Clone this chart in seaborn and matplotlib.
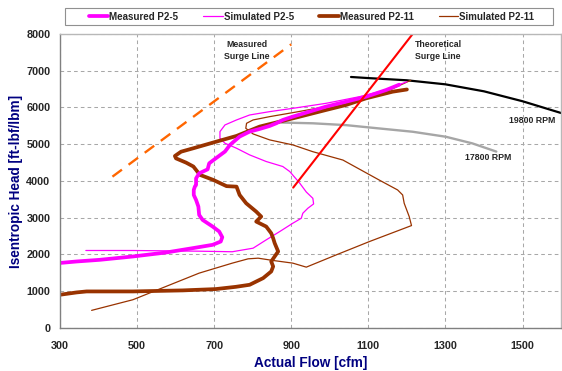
import matplotlib
matplotlib.use("Agg")
import matplotlib.pyplot as plt
from matplotlib.lines import Line2D
from matplotlib.patches import Rectangle
import seaborn as sns
import pandas as pd

# Compressor map: isentropic head vs actual flow
meas_p25_flow = [300, 343, 403, 489, 575, 644, 696, 717, 721, 713, 696, 670, 661, 659, 653, 647,
                 647, 650, 653, 653, 661, 683, 687, 702, 728, 741, 766, 792, 818, 844, 861, 878,
                 904, 947, 990, 1042, 1094, 1146, 1180]
meas_p25_head = [1770, 1810, 1855, 1946, 2054, 2172, 2263, 2353, 2470, 2625, 2760, 2941, 3077, 3303, 3484, 3620,
                 3756, 3851, 3891, 4072, 4208, 4317, 4480, 4600, 4801, 4982, 5208, 5344, 5416, 5498, 5570, 5661,
                 5751, 5887, 6023, 6158, 6294, 6475, 6620]

sim_p25_flow = [367, 489, 661, 747, 801, 835, 870, 904, 926, 930, 943, 958, 956, 939, 922, 896, 878,
                835, 792, 758, 728, 715, 715, 728, 758, 792, 844, 904, 990, 1077, 1146, 1180, 1200]
sim_p25_head = [2109, 2109, 2090, 2075, 2172, 2398, 2624, 2851, 2986, 3122, 3258, 3376, 3529, 3700, 3941, 4258, 4394,
                4530, 4710, 4891, 5027, 5163, 5344, 5525, 5661, 5796, 5887, 5977, 6113, 6294, 6475, 6620, 6700]

meas_p211_flow = [300, 343, 369, 489, 618, 704, 756, 792, 827, 848, 853, 848, 857, 866, 857, 853, 848,
                  835, 809, 822, 809, 783, 766, 758, 732, 697, 663, 646, 627, 601, 598, 614, 646, 706,
                  758, 818, 870, 922, 990, 1042, 1094, 1163, 1200]
meas_p211_head = [905, 968, 995, 995, 1023, 1059, 1120, 1176, 1357, 1538, 1674, 1810, 1946, 2082, 2308, 2443, 2579,
                  2760, 2896, 3032, 3167, 3394, 3620, 3846, 3860, 4032, 4167, 4394, 4500, 4615, 4680, 4797, 4891, 5072,
                  5226, 5480, 5615, 5751, 5932, 6068, 6249, 6430, 6490]

sim_p211_flow = [382, 489, 575, 661, 747, 788, 814, 853, 904, 939, 1017, 1103, 1212, 1206, 1193, 1189, 1176,
                 1128, 1034, 956, 904, 844, 801, 782, 784, 801, 844, 904, 990, 1077, 1146, 1210]
sim_p211_head = [480, 769, 1131, 1493, 1765, 1882, 1900, 1837, 1765, 1656, 1991, 2353, 2787, 3032, 3394, 3620, 3756,
                 4027, 4570, 4797, 4982, 5118, 5280, 5434, 5570, 5661, 5751, 5860, 6023, 6222, 6430, 6740]

speed_19800_flow = [1055, 1100, 1200, 1300, 1400, 1500, 1600]
speed_19800_head = [6830, 6800, 6740, 6630, 6440, 6170, 5850]

speed_17800_flow = [875, 956, 1042, 1128, 1215, 1301, 1370, 1432]
speed_17800_head = [5590, 5570, 5520, 5430, 5340, 5204, 5023, 4800]

meas_surge_flow = [436, 900]
meas_surge_head = [4118, 7720]

theo_surge_flow = [905, 1215]
theo_surge_head = [3820, 8000]

x_ticks = [300, 500, 700, 900, 1100, 1300, 1500]
y_ticks = [0, 1000, 2000, 3000, 4000, 5000, 6000, 7000, 8000]

sns.set_style("white")
plt.rcParams["font.family"] = ["Liberation Sans", "DejaVu Sans"]
plt.rcParams["font.weight"] = "bold"

fig = plt.figure(figsize=(5.62, 3.71), dpi=100)
ax = fig.add_axes([0.1068, 0.1159, 0.8915, 0.7925])

MAGENTA = "#FF00FF"
BROWN = "#993300"


def draw(xs, ys, **kw):
    df = pd.DataFrame({"flow": xs, "head": ys})
    sns.lineplot(data=df, x="flow", y="head", sort=False, estimator=None, ax=ax, **kw)


draw(meas_surge_flow, meas_surge_head, color="#FF6600", lw=1.7, linestyle=(0, (5, 3.5)))
draw(speed_17800_flow, speed_17800_head, color="#A6A6A6", lw=1.7)
draw(speed_19800_flow, speed_19800_head, color="black", lw=1.6)
draw(sim_p211_flow, sim_p211_head, color=BROWN, lw=0.9)
draw(sim_p25_flow, sim_p25_head, color=MAGENTA, lw=0.9)
draw(meas_p211_flow, meas_p211_head, color=BROWN, lw=2.7)
draw(meas_p25_flow, meas_p25_head, color=MAGENTA, lw=2.7)
draw(theo_surge_flow, theo_surge_head, color="#FF0000", lw=1.5)

ax.set_xlim(300, 1600)
ax.set_ylim(0, 8000)
ax.set_xticks(x_ticks)
ax.set_yticks(y_ticks)
ax.set_xticklabels([str(v) for v in x_ticks], fontsize=7.8, fontweight="bold")
ax.set_yticklabels([str(v) for v in y_ticks], fontsize=7.8, fontweight="bold")
ax.tick_params(axis="both", direction="out", length=3, width=0.8, color="#808080", pad=4)
ax.tick_params(axis="x", pad=6)

ax.grid(True, color="#A8A8A8", linestyle=(0, (3.5, 3)), linewidth=0.75)
ax.set_axisbelow(True)
for side, col in [("left", "#808080"), ("bottom", "#808080"), ("top", "#B8B8B8"), ("right", "#B8B8B8")]:
    ax.spines[side].set_visible(True)
    ax.spines[side].set_color(col)
    ax.spines[side].set_linewidth(1.0)

ax.set_xlabel("Actual Flow [cfm]", fontsize=9.8, fontweight="bold", color="#000080")
ax.set_ylabel("Isentropic Head [ft-lbf/lbm]", fontsize=9.8, fontweight="bold", color="#000080")
ax.xaxis.set_label_coords(0.5, -0.095)
ax.yaxis.set_label_coords(-0.073, 0.5)

ax.text(785, 7550, "Measured\nSurge Line", fontsize=6.3, fontweight="bold", ha="center", va="center",
        linespacing=1.3)
ax.text(1222, 7550, "Theoretical\nSurge Line", fontsize=6.3, fontweight="bold", ha="left", va="center",
        linespacing=1.3)
ax.text(1525, 5650, "19800 RPM", fontsize=6.3, fontweight="bold", ha="center", va="center")
ax.text(1411, 4640, "17800 RPM", fontsize=6.3, fontweight="bold", ha="center", va="center")

handles = [
    Line2D([], [], color=MAGENTA, lw=2.7),
    Line2D([], [], color=MAGENTA, lw=0.9),
    Line2D([], [], color=BROWN, lw=2.7),
    Line2D([], [], color=BROWN, lw=0.9),
]
labels = ["Measured P2-5", "Simulated P2-5", "Measured P2-11", "Simulated P2-11"]
fig.legend(handles, labels, ncol=4, loc="center", bbox_to_anchor=(311.5 / 562, 1 - 16.5 / 371),
           prop={"weight": "bold", "size": 7}, frameon=False,
           handlelength=2.0, handletextpad=0.1, columnspacing=2.6, borderpad=0.3)
# legend box outline
W, H = 562.0, 371.0
fig.patches.append(Rectangle((65 / W, 1 - 25 / H), (553 - 65) / W, 17 / H, transform=fig.transFigure,
                             fill=False, edgecolor="#909090", linewidth=0.8))

fig.savefig("out.png", dpi=100)
